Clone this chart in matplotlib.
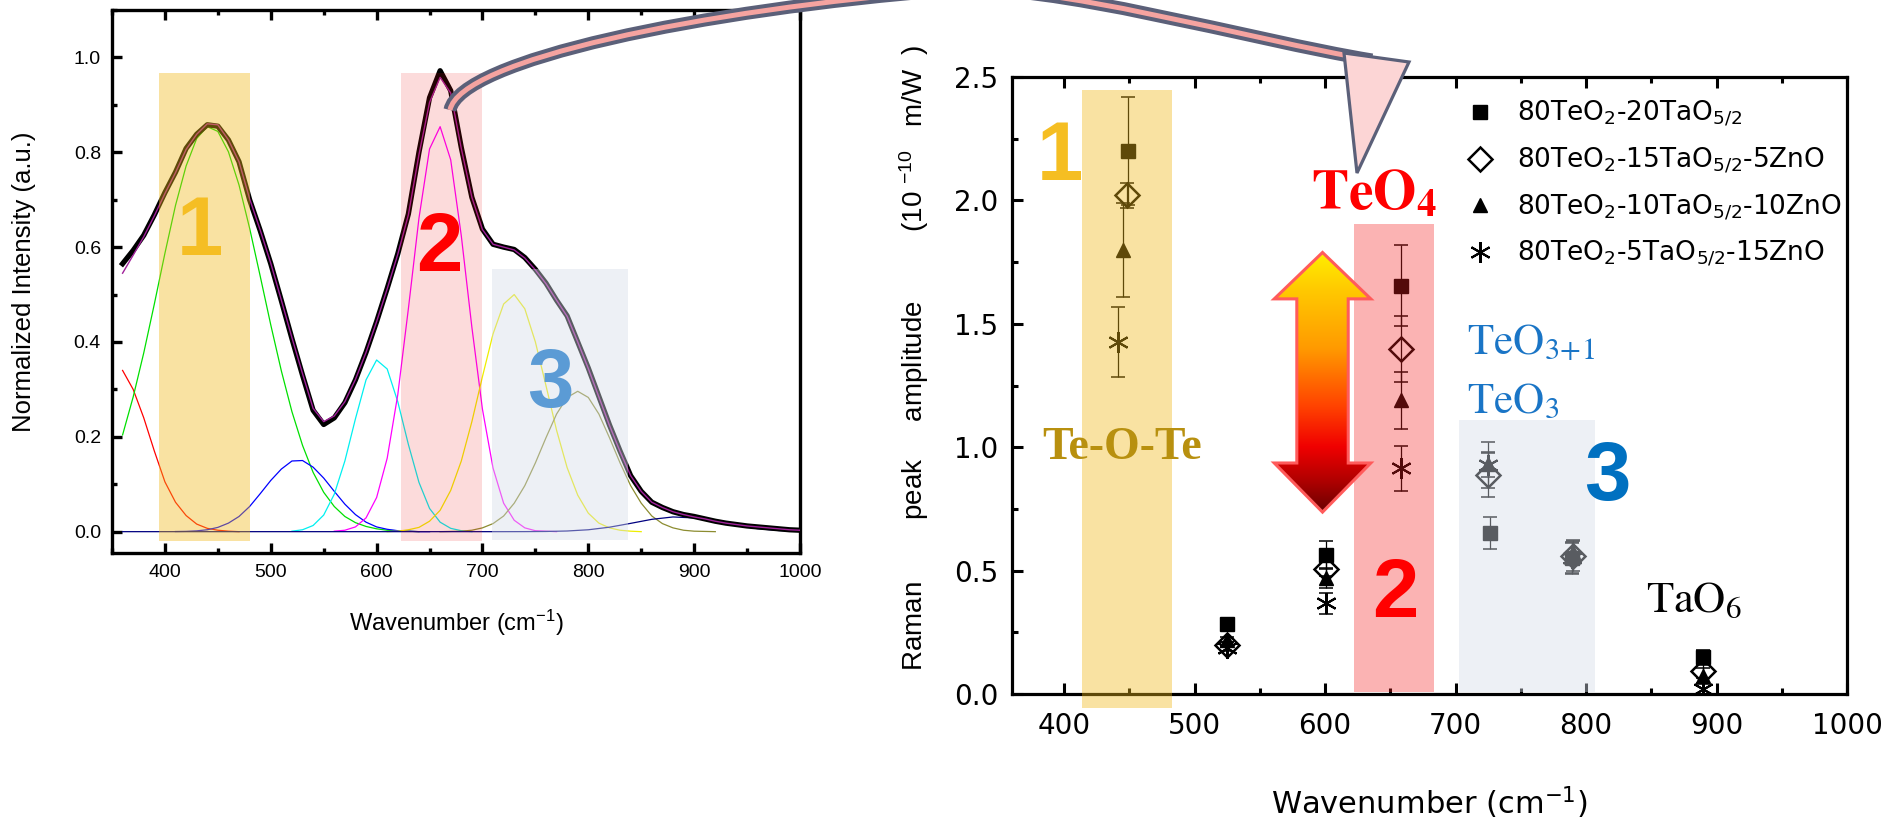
import numpy as np
import matplotlib
matplotlib.use("Agg")
import matplotlib.pyplot as plt
from matplotlib.patches import Rectangle, Polygon, PathPatch
from matplotlib.path import Path
from matplotlib.lines import Line2D
from matplotlib.ticker import MultipleLocator, FormatStrFormatter
from matplotlib.colors import LinearSegmentedColormap

plt.rcParams['font.family'] = ['Liberation Sans', 'DejaVu Sans']
plt.rcParams['mathtext.fontset'] = 'custom'
plt.rcParams['mathtext.rm'] = 'Liberation Sans'
plt.rcParams['mathtext.it'] = 'Liberation Sans:italic'
plt.rcParams['mathtext.bf'] = 'Liberation Sans:bold'

W, H = 1897, 825

# ---------------- left panel: spectrum + fitted bands ----------------
wn = np.arange(360, 1001, 10)
intensity = [0.565, 0.593, 0.625, 0.668, 0.715, 0.758, 0.808, 0.838, 0.858, 0.855,
             0.826, 0.780, 0.700, 0.635, 0.565, 0.487, 0.407, 0.330, 0.256, 0.226,
             0.240, 0.272, 0.320, 0.378, 0.443, 0.513, 0.586, 0.670, 0.800, 0.915,
             0.972, 0.930, 0.810, 0.705, 0.638, 0.606, 0.600, 0.595, 0.578, 0.553,
             0.524, 0.488, 0.455, 0.400, 0.345, 0.285, 0.225, 0.170, 0.118, 0.085,
             0.062, 0.051, 0.042, 0.036, 0.032, 0.027, 0.022, 0.018, 0.015, 0.012,
             0.010, 0.008, 0.006, 0.004, 0.003]
fit_sum = [0.545, 0.583, 0.622, 0.666, 0.713, 0.757, 0.806, 0.838, 0.860, 0.858,
           0.826, 0.780, 0.702, 0.636, 0.566, 0.488, 0.409, 0.333, 0.260, 0.232,
           0.244, 0.274, 0.321, 0.378, 0.443, 0.512, 0.585, 0.668, 0.795, 0.905,
           0.958, 0.925, 0.808, 0.705, 0.637, 0.606, 0.600, 0.594, 0.577, 0.552,
           0.523, 0.488, 0.454, 0.400, 0.344, 0.284, 0.224, 0.169, 0.118, 0.085,
           0.062, 0.051, 0.042, 0.036, 0.031, 0.027, 0.022, 0.018, 0.015, 0.012,
           0.010, 0.008, 0.006, 0.004, 0.003]

red_wn = np.arange(360, 471, 10)
red_y = [0.340, 0.300, 0.240, 0.170, 0.105, 0.062, 0.034, 0.016, 0.007, 0.003, 0.001, 0.0]
green_wn = np.arange(360, 641, 10)
green_y = [0.204, 0.284, 0.377, 0.480, 0.587, 0.688, 0.771, 0.829, 0.854, 0.844,
           0.801, 0.731, 0.640, 0.539, 0.436, 0.339, 0.253, 0.182, 0.125, 0.083,
           0.053, 0.032, 0.019, 0.011, 0.006, 0.003, 0.002, 0.001, 0.0]
blue_wn = np.arange(410, 651, 10)
blue_y = [0.0003, 0.0006, 0.0017, 0.004, 0.009, 0.018, 0.032, 0.053, 0.080, 0.108,
          0.132, 0.149, 0.150, 0.136, 0.113, 0.085, 0.058, 0.036, 0.020, 0.010,
          0.005, 0.002, 0.001, 0.0, 0.0]
cyan_wn = np.arange(520, 691, 10)
cyan_y = [0.001, 0.004, 0.013, 0.035, 0.079, 0.149, 0.238, 0.320, 0.362, 0.343,
          0.274, 0.184, 0.104, 0.049, 0.020, 0.007, 0.002, 0.0]
magenta_wn = np.arange(560, 771, 10)
magenta_y = [0.001, 0.003, 0.010, 0.029, 0.072, 0.155, 0.289, 0.470, 0.661, 0.807,
             0.854, 0.784, 0.624, 0.431, 0.258, 0.134, 0.060, 0.024, 0.008, 0.002,
             0.001, 0.0]
yellow_wn = np.arange(610, 851, 10)
yellow_y = [0.0, 0.001, 0.004, 0.009, 0.022, 0.045, 0.087, 0.149, 0.232, 0.327,
            0.417, 0.480, 0.500, 0.470, 0.400, 0.308, 0.214, 0.135, 0.077, 0.039,
            0.018, 0.008, 0.003, 0.001, 0.0]
olive_wn = np.arange(660, 921, 10)
olive_y = [0.0, 0.0005, 0.001, 0.003, 0.008, 0.017, 0.033, 0.060, 0.097, 0.145,
           0.198, 0.248, 0.283, 0.296, 0.283, 0.248, 0.198, 0.145, 0.097, 0.060,
           0.033, 0.017, 0.008, 0.003, 0.001, 0.0005, 0.0]
navy_wn = np.arange(360, 1001, 20)
navy_y = [0.0] * 19 + [0.0001, 0.0004, 0.0014, 0.004, 0.0094, 0.0175, 0.026, 0.031,
                       0.029, 0.022, 0.013, 0.0063, 0.0024, 0.0007]

# ---------------- right panel: Raman peak amplitudes ----------------
labels = ['80TeO$_2$-20TaO$_{5/2}$', '80TeO$_2$-15TaO$_{5/2}$-5ZnO',
          '80TeO$_2$-10TaO$_{5/2}$-10ZnO', '80TeO$_2$-5TaO$_{5/2}$-15ZnO']
wn_20ta = [449, 525, 601, 658, 726, 789, 890]
amp_20ta = [2.20, 0.284, 0.563, 1.655, 0.654, 0.55, 0.148]
err_20ta = [0.22, 0.01, 0.056, 0.165, 0.065, 0.06, 0.03]
wn_15ta = [448, 525, 601, 658, 725, 790, 890]
amp_15ta = [2.02, 0.199, 0.507, 1.398, 0.888, 0.56, 0.094]
err_15ta = [0.05, 0.01, 0.03, 0.135, 0.088, 0.06, 0.03]
wn_10ta = [445, 525, 601, 658, 725, 790, 890]
amp_10ta = [1.80, 0.219, 0.469, 1.19, 0.93, 0.575, 0.074]
err_10ta = [0.19, 0.01, 0.04, 0.115, 0.05, 0.05, 0.03]
wn_5ta = [441, 525, 601, 658, 725, 789, 890]
amp_5ta = [1.426, 0.185, 0.368, 0.914, 0.928, 0.55, 0.02]
err_5ta = [0.142, 0.01, 0.042, 0.09, 0.095, 0.065, 0.02]

fig = plt.figure(figsize=(W / 100, H / 100), dpi=100)
ax1 = fig.add_axes([112 / W, 1 - 553 / H, 688 / W, 543 / H])
ax2 = fig.add_axes([1012 / W, 1 - 694 / H, 835 / W, 617 / H])

# ---- left
for x, y, c in [(red_wn, red_y, '#FF0000'), (green_wn, green_y, '#00E000'),
                (blue_wn, blue_y, '#0000FF'), (cyan_wn, cyan_y, '#00F0F0'),
                (magenta_wn, magenta_y, '#FF00FF'), (yellow_wn, yellow_y, '#EEEE00'),
                (olive_wn, olive_y, '#8C8C30'), (navy_wn, navy_y, '#000080')]:
    ax1.plot(x, y, color=c, lw=0.9, zorder=2)
ax1.plot(wn, intensity, color='k', lw=3.8, zorder=3, solid_joinstyle='round')
ax1.plot(wn, fit_sum, color='#A0209A', lw=1.0, zorder=4)

ax1.add_patch(Rectangle((394.6, -0.02), 85.7, 0.988, facecolor='#F0B818', alpha=0.4, lw=0, zorder=5))
ax1.add_patch(Rectangle((623.2, -0.02), 76.2, 0.988, facecolor='#F01010', alpha=0.15, lw=0, zorder=5))
ax1.add_patch(Rectangle((708.9, -0.018), 128.2, 0.572, facecolor='#D5DCE8', alpha=0.42, lw=0, zorder=5))

num_kw = dict(fontsize=60, fontweight='bold', family='Liberation Sans', ha='center',
              va='baseline', zorder=7)
ax1.text(433, 0.5825, '1', color='#F5BE24', **num_kw)
ax1.text(659.4, 0.55, '2', color='#FF0000', **num_kw)
ax1.text(764, 0.262, '3', color='#5B9BD5', **num_kw)

ax1.set_xlim(350, 1000)
ax1.set_ylim(-0.045, 1.1)
ax1.xaxis.set_major_locator(MultipleLocator(100))
ax1.xaxis.set_minor_locator(MultipleLocator(50))
ax1.yaxis.set_major_locator(MultipleLocator(0.2))
ax1.yaxis.set_minor_locator(MultipleLocator(0.1))
ax1.yaxis.set_major_formatter(FormatStrFormatter('%.1f'))
ax1.tick_params(which='both', direction='in', top=True, right=False, width=2.4)
ax1.tick_params(which='major', length=7.5, labelsize=14, pad=8)
ax1.tick_params(which='minor', length=3.6)
for s in ax1.spines.values():
    s.set_linewidth(2.4)

fig.text(456 / W, 1 - 623 / H, 'Wavenumber (cm$^{-1}$)', fontsize=17, ha='center', va='center')
fig.text(24 / W, 1 - 282 / H, 'Normalized Intensity (a.u.)', fontsize=18.5, rotation=90,
         ha='center', va='center')

# ---- right
ax2.add_patch(Rectangle((413.5, -0.056), 69.5, 2.503, facecolor='#F0B818', alpha=0.4, lw=0,
                        zorder=5, clip_on=False))
ax2.add_patch(Rectangle((622, 0.009), 61.5, 1.896, facecolor='#F52222', alpha=0.34, lw=0, zorder=5))
ax2.add_patch(Rectangle((702.5, 0.009), 104.5, 1.101, facecolor='#D5DCE8', alpha=0.42, lw=0, zorder=5))

styles = [dict(marker='s', ms=9.5, mfc='k', mec='k'),
          dict(marker='D', ms=12, mfc='none', mec='k', mew=1.8),
          dict(marker='^', ms=10.5, mfc='k', mec='k'),
          dict(marker=(6, 2, 0), ms=15, mfc='k', mec='k', mew=1.5)]
series = [(wn_20ta, amp_20ta, err_20ta), (wn_15ta, amp_15ta, err_15ta),
          (wn_10ta, amp_10ta, err_10ta), (wn_5ta, amp_5ta, err_5ta)]
for (x, y, e), st in zip(series, styles):
    ax2.errorbar(x, y, yerr=e, fmt='none', ecolor='k', elinewidth=0.9, capsize=4.7,
                 capthick=1.1, zorder=3)
    ax2.plot(x, y, ls='none', zorder=4, **st)

# gradient double arrow
ax_c, hh, hs = 598, 37, 19.7
tip_top, base_top, base_bot, tip_bot = 1.789, 1.601, 0.936, 0.737
verts = [(ax_c - hs, base_top), (ax_c - hh, base_top), (ax_c, tip_top), (ax_c + hh, base_top),
         (ax_c + hs, base_top), (ax_c + hs, base_bot), (ax_c + hh, base_bot), (ax_c, tip_bot),
         (ax_c - hh, base_bot), (ax_c - hs, base_bot)]
arrow = Polygon(verts, closed=True, facecolor='none', edgecolor='#FF5B5B', lw=2.2, zorder=7)
cmap = LinearSegmentedColormap.from_list('arr', [(0, '#6A0000'), (0.12, '#B00000'),
                                                 (0.25, '#F00000'), (0.4, '#FF4000'),
                                                 (0.63, '#FF9A00'), (0.85, '#FFC800'),
                                                 (1.0, '#FFEE00')])
grad = np.linspace(0, 1, 256).reshape(-1, 1)
im = ax2.imshow(grad, extent=[ax_c - hh, ax_c + hh, tip_bot, tip_top], origin='lower',
                cmap=cmap, aspect='auto', zorder=6, interpolation='bicubic')
ax2.add_patch(arrow)
im.set_clip_path(arrow)

txt_kw = dict(ha='left', va='baseline', zorder=8)
ax2.text(397, 2.083, '1', color='#F5BE22', **num_kw)
ax2.text(653.6, 0.31, '2', color='#FF0000', **num_kw)
ax2.text(816.5, 0.786, '3', color='#0070C0', **num_kw)
ax2.text(383, 0.952, 'Te-O-Te', color='#B8900F', fontsize=33, fontweight='bold',
         family='Liberation Serif', **txt_kw)
ax2.text(589, 1.964, r'$\mathbf{TeO}_{\mathbf{4}}$', color='#FF0000', fontsize=40,
         math_fontfamily='stix', **txt_kw)
ax2.text(709, 1.378, r'$\mathrm{TeO}_{3\!+\!1}$', color='#1A75C6', fontsize=31,
         math_fontfamily='stix', **txt_kw)
ax2.text(709, 1.138, r'$\mathrm{TeO}_{3}$', color='#1A75C6', fontsize=31,
         math_fontfamily='stix', **txt_kw)
ax2.text(846, 0.334, r'$\mathrm{TaO}_{6}$', color='k', fontsize=32,
         math_fontfamily='stix', **txt_kw)

ax2.set_xlim(360, 1000)
ax2.set_ylim(0, 2.5)
ax2.xaxis.set_major_locator(MultipleLocator(100))
ax2.xaxis.set_minor_locator(MultipleLocator(50))
ax2.yaxis.set_major_locator(MultipleLocator(0.5))
ax2.yaxis.set_minor_locator(MultipleLocator(0.25))
ax2.yaxis.set_major_formatter(FormatStrFormatter('%.1f'))
ax2.tick_params(which='both', direction='in', top=True, right=False, width=2.2)
ax2.tick_params(which='major', length=8, labelsize=20, labelfontfamily='DejaVu Sans')
ax2.tick_params(axis='y', which='major', pad=10)
ax2.tick_params(axis='x', which='major', pad=13)
ax2.tick_params(which='minor', length=4.3)
for s in ax2.spines.values():
    s.set_linewidth(2.3)

handles = [Line2D([], [], ls='none', **st) for st in styles]
leg = fig.legend(handles, labels, loc='upper left', bbox_to_anchor=(1466.8 / W, 1 - 99 / H),
                 frameon=False, handlelength=1.0, handletextpad=0.9, labelspacing=0.63,
                 borderaxespad=0, borderpad=0, prop={'family': 'DejaVu Sans', 'size': 19})
for t in leg.get_texts():
    t.set_math_fontfamily('dejavusans')

ylab = ('Raman' + ' ' * 8 + 'peak' + ' ' * 5 + 'amplitude' + ' ' * 9 +
        '(10 $^{-10}$   m/W  )')
fig.text(914 / W, 1 - 358 / H, ylab, fontsize=20, rotation=90, ha='center', va='center')
fig.text(1429 / W, 1 - 803 / H, 'Wavenumber (cm$^{-1}$)', fontsize=22, family='DejaVu Sans',
         math_fontfamily='dejavusans', ha='center', va='center')

# ---- curved pointer from the left spectrum to the right panel
def fp(x, y):
    return (x / W, 1 - y / H)

pts = [fp(450, 110), fp(460, 60), fp(700, 10), fp(950, -10),
       fp(1050, -18), fp(1250, 40), fp(1372, 60)]
codes = [Path.MOVETO] + [Path.CURVE4] * 6
shaft = Path(pts, codes)
fig.add_artist(PathPatch(shaft, fill=False, edgecolor='#5B6079', lw=9.4, capstyle='butt',
                         transform=fig.transFigure, zorder=10))
fig.add_artist(PathPatch(shaft, fill=False, edgecolor='#F5A3A0', lw=3.6, capstyle='butt',
                         transform=fig.transFigure, zorder=11))
head = Polygon([fp(1344, 53), fp(1409, 62), fp(1357, 173)], closed=True,
               facecolor='#FCD5D5', edgecolor='#5B6079', lw=2.3, transform=fig.transFigure,
               zorder=12)
fig.add_artist(head)

fig.savefig('out.png', dpi=100)
